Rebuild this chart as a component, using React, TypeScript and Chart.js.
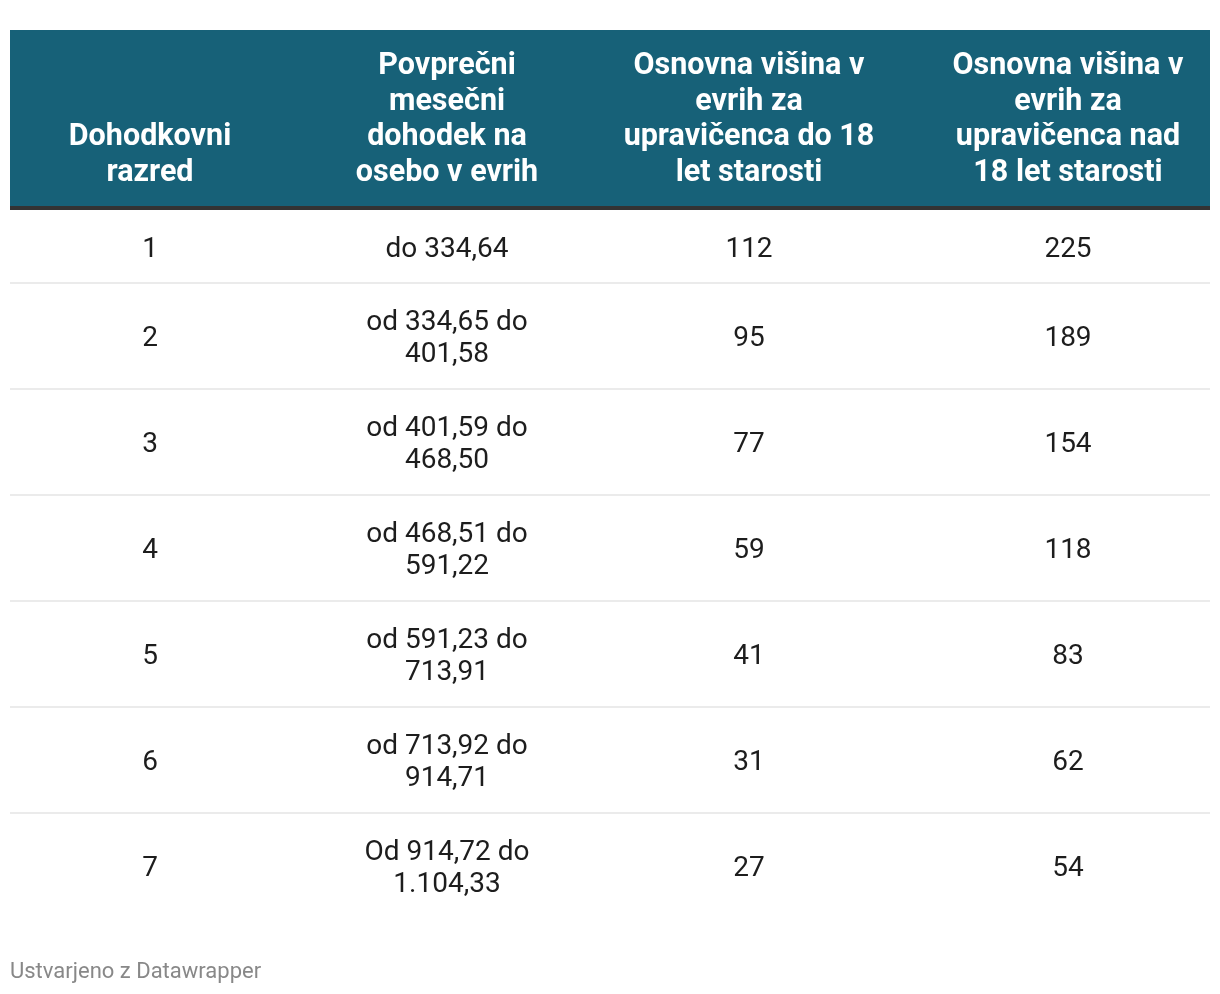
import React, { useEffect, useRef } from "react";
import { Chart, registerables } from "chart.js";

Chart.register(...registerables);

// ---- data ----
const headers = [
  "Dohodkovni razred",
  "Povprečni mesečni dohodek na osebo v evrih",
  "Osnovna višina v evrih za upravičenca do 18 let starosti",
  "Osnovna višina v evrih za upravičenca nad 18 let starosti",
];
const incomeClasses = ["1", "2", "3", "4", "5", "6", "7"];
const incomeRanges = [
  "do 334,64",
  "od 334,65 do 401,58",
  "od 401,59 do 468,50",
  "od 468,51 do 591,22",
  "od 591,23 do 713,91",
  "od 713,92 do 914,71",
  "Od 914,72 do 1.104,33",
];
const amountUnder18 = [112, 95, 77, 59, 41, 31, 27];
const amountOver18 = [225, 189, 154, 118, 83, 62, 54];
const footerText = "Ustvarjeno z Datawrapper";

// ---- layout / style (not data) ----
const TABLE_W = 1200;
const TABLE_H = 889;
const colCenters = [140, 437, 739, 1058];
const colWrap = [210, 200, 256, 256];
const HEADER_LINE_H = 35.5;
const HEADER_PAD = 34;
const BORDER_H = 4;
const BODY_LINE_H = 32;
const BODY_SHIFT = 3;
const HEADER_BG = "#176178";
const BORDER_COLOR = "#333333";
const SEP_COLOR = "#ebebeb";
const TEXT_COLOR = "#1d1d1d";
const FOOTER_COLOR = "#888888";
const FONT_FAMILY = "Roboto, 'Noto Sans', sans-serif";
const HEADER_FONT = `bold 30.5px ${FONT_FAMILY}`;
const BODY_FONT = `28px ${FONT_FAMILY}`;
const FOOTER_FONT = `22px ${FONT_FAMILY}`;

function wrap(ctx: CanvasRenderingContext2D, text: string, maxW: number): string[] {
  const words = text.split(" ");
  const lines: string[] = [];
  let cur = "";
  for (const w of words) {
    const test = cur ? cur + " " + w : w;
    if (cur && ctx.measureText(test).width > maxW) {
      lines.push(cur);
      cur = w;
    } else {
      cur = test;
    }
  }
  if (cur) lines.push(cur);
  return lines;
}

const tablePlugin = {
  id: "tablePlugin",
  afterDraw(chart: any) {
    const ctx: CanvasRenderingContext2D = chart.ctx;
    const xS = chart.scales.x;
    const yS = chart.scales.y;
    const px = (v: number) => xS.getPixelForValue(v);
    const py = (v: number) => yS.getPixelForValue(v);
    const left = px(0);
    const right = px(TABLE_W);

    ctx.save();
    ctx.textAlign = "center";
    ctx.textBaseline = "middle";

    // header
    ctx.font = HEADER_FONT;
    const headerLines = headers.map((h, i) => wrap(ctx, h, colWrap[i]));
    const maxHL = Math.max(...headerLines.map((l) => l.length));
    const headerH = maxHL * HEADER_LINE_H + HEADER_PAD;
    ctx.fillStyle = HEADER_BG;
    ctx.fillRect(left, py(0), right - left, py(headerH) - py(0));
    ctx.fillStyle = BORDER_COLOR;
    ctx.fillRect(left, py(headerH), right - left, py(headerH + BORDER_H) - py(headerH));
    ctx.fillStyle = "#ffffff";
    headerLines.forEach((lines, c) => {
      const n = lines.length;
      lines.forEach((line, i) => {
        const y = headerH - 33 - (n - 1 - i) * HEADER_LINE_H;
        ctx.fillText(line, px(colCenters[c]), py(y));
      });
    });

    // body
    ctx.font = BODY_FONT;
    let top = headerH + BORDER_H;
    incomeClasses.forEach((cls, r) => {
      const cells = [cls, incomeRanges[r], String(amountUnder18[r]), String(amountOver18[r])];
      const cellLines = cells.map((t, i) => wrap(ctx, t, colWrap[i]));
      const n = Math.max(...cellLines.map((l) => l.length));
      const h = 40 + 33 * n;
      const mid = top + h / 2 + BODY_SHIFT;
      ctx.fillStyle = TEXT_COLOR;
      cellLines.forEach((lines, c) => {
        const k = lines.length;
        lines.forEach((line, i) => {
          const y = mid + (i - (k - 1) / 2) * BODY_LINE_H;
          ctx.fillText(line, px(colCenters[c]), py(y));
        });
      });
      top += h;
      if (r < incomeClasses.length - 1) {
        ctx.fillStyle = SEP_COLOR;
        ctx.fillRect(left, py(top - 1), right - left, 2);
      }
    });

    // footer
    ctx.font = FOOTER_FONT;
    ctx.textAlign = "left";
    ctx.fillStyle = FOOTER_COLOR;
    ctx.fillText(footerText, left, py(top) + 53);
    ctx.restore();
  },
};

export default function App() {
  const ref = useRef<HTMLCanvasElement | null>(null);
  useEffect(() => {
    if (!ref.current) return;
    const chart = new Chart(ref.current, {
      type: "scatter",
      data: { datasets: [] },
      options: {
        animation: false,
        responsive: true,
        maintainAspectRatio: false,
        layout: { padding: { left: 2, right: 2, top: 22, bottom: 75 } },
        scales: {
          x: { type: "linear", min: 0, max: TABLE_W, display: false },
          y: { type: "linear", min: 0, max: TABLE_H, reverse: true, display: false },
        },
        plugins: { legend: { display: false }, tooltip: { enabled: false }, title: { display: false } },
        events: [],
      },
      plugins: [tablePlugin],
    });
    return () => chart.destroy();
  }, []);
  return (
    <div style={{ position: "relative", width: 1204, height: 986 }}>
      <canvas ref={ref} />
    </div>
  );
}
